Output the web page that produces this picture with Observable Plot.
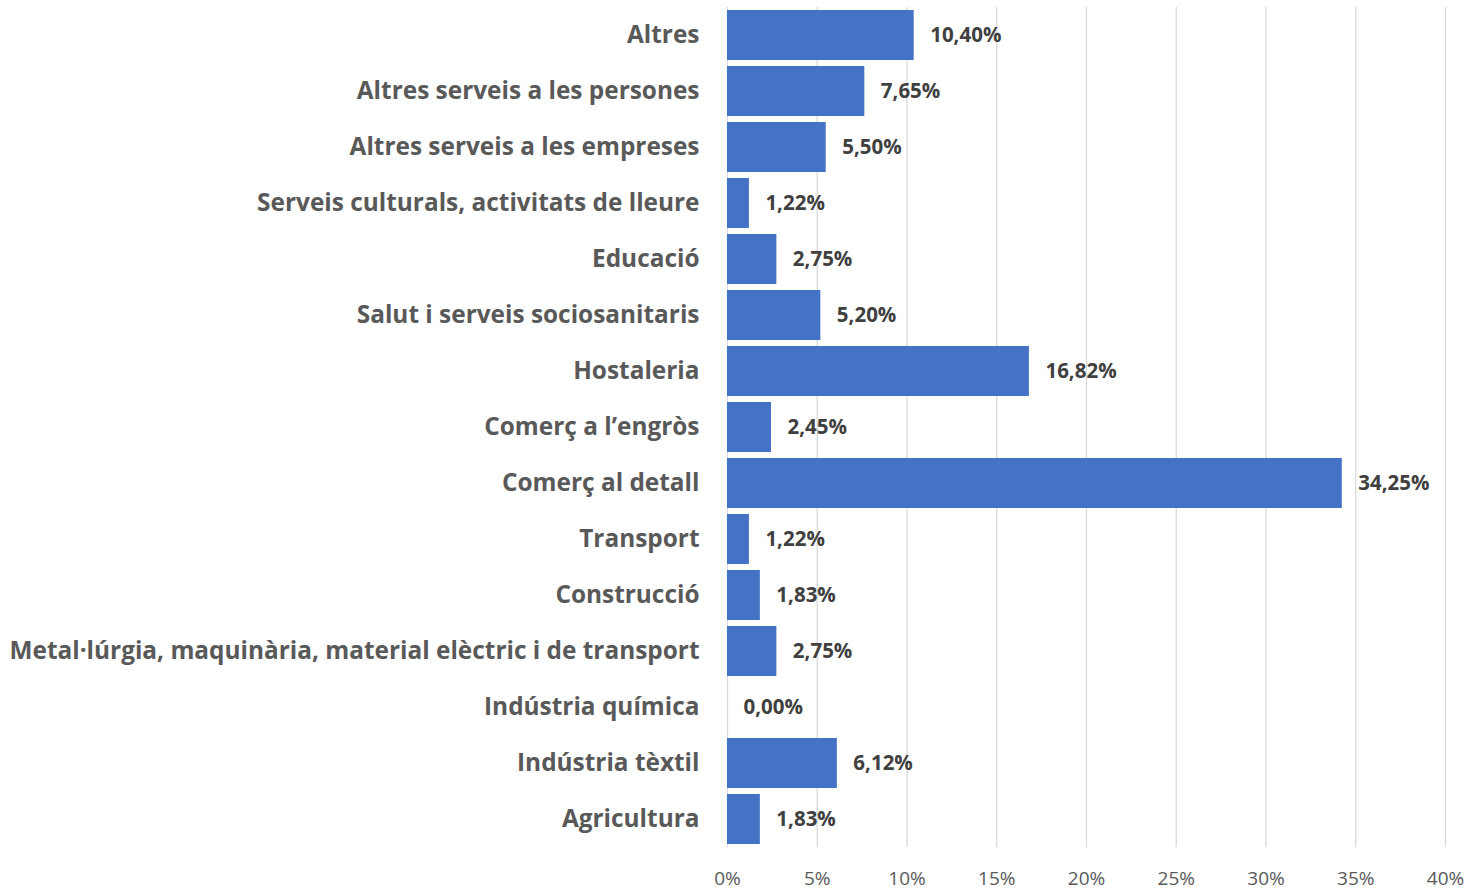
<!DOCTYPE html>
<html>
<head>
<meta charset="utf-8">
<script src="https://cdn.jsdelivr.net/npm/d3@7"></script>
<script src="https://cdn.jsdelivr.net/npm/@observablehq/plot@0.6"></script>
<style>
  html, body { margin: 0; padding: 0; background: #fff; }
  #chart { width: 1468px; height: 890px; }
</style>
</head>
<body>
<div id="chart"></div>
<script>
const categories = [
  "Altres",
  "Altres serveis a les persones",
  "Altres serveis a les empreses",
  "Serveis culturals, activitats de lleure",
  "Educació",
  "Salut i serveis sociosanitaris",
  "Hostaleria",
  "Comerç a l’engròs",
  "Comerç al detall",
  "Transport",
  "Construcció",
  "Metal·lúrgia, maquinària, material elèctric i de transport",
  "Indústria química",
  "Indústria tèxtil",
  "Agricultura"
];
const values = [10.40, 7.65, 5.50, 1.22, 2.75, 5.20, 16.82, 2.45, 34.25, 1.22, 1.83, 2.75, 0.00, 6.12, 1.83];
const xTicks = [0, 5, 10, 15, 20, 25, 30, 35, 40];

const data = categories.map((c, i) => ({category: c, value: values[i]}));
const fmt = v => v.toFixed(2).replace(".", ",") + "%";

const chart = Plot.plot({
  width: 1468,
  height: 890,
  marginTop: 7,
  marginBottom: 43,
  marginLeft: 727,
  marginRight: 23,
  style: {fontFamily: "'Open Sans', sans-serif", background: "#fff"},
  x: {domain: [0, 40], ticks: xTicks, label: null},
  y: {domain: categories, label: null, paddingInner: 0.107, paddingOuter: 0.0535},
  marks: [
    Plot.gridX(xTicks, {stroke: "#d9d9d9", strokeOpacity: 1, strokeWidth: 1.3}),
    Plot.barX(data, {x: "value", y: "category", fill: "#4472c4"}),
    Plot.text(data, {x: "value", y: "category", text: d => fmt(d.value), textAnchor: "start", dx: 16, fontSize: 20.5, fontWeight: "bold", fill: "#404040"}),
    Plot.axisY({tickSize: 0, tickPadding: 28, fontSize: 24.4, fontWeight: "bold", color: "#595959", label: null}),
    Plot.axisX(xTicks, {tickSize: 0, tickPadding: 24, fontSize: 19, color: "#595959", tickFormat: d => d + "%", label: null})
  ]
});
document.getElementById("chart").appendChild(chart);
</script>
</body>
</html>
